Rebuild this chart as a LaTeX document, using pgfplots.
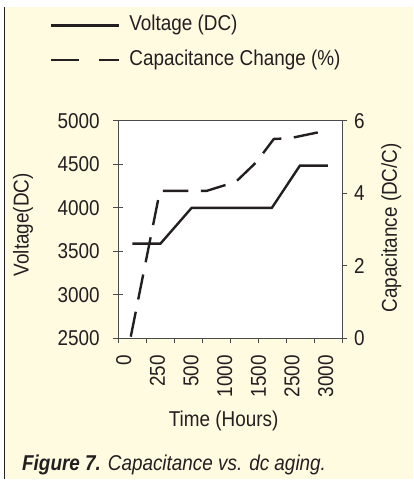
\documentclass[border=0pt]{standalone}
\usepackage{pgfplots}
\pgfplotsset{compat=1.18}
\usepackage{fontspec}
\setmainfont{Liberation Sans}[FakeStretch=0.88]
\definecolor{cream}{HTML}{FFFBE1}
\definecolor{axisgray}{HTML}{4A4A4A}
\definecolor{ink}{HTML}{231F20}
\newcommand\chartfont{\fontsize{21.5bp}{25bp}\selectfont}

\begin{document}
\begin{tikzpicture}
\fill[white] (0bp,0bp) rectangle (414bp,480bp);
\fill[cream] (4.5bp,0bp) rectangle (414bp,473bp);
\draw[ink, line width=1.4bp] (4.3bp,0bp) -- (4.3bp,473bp);
\node[anchor=base west, inner sep=0pt, font=\chartfont, text=ink] at (22bp,9bp)
  {\textbf{\textit{Figure 7.}} \textit{Capacitance vs. dc aging.}};

% frame + x axis
\begin{axis}[
  at={(118.3bp,141bp)}, anchor=south west,
  scale only axis, width=224.7bp, height=218bp,
  xmin=0, xmax=8, ymin=0, ymax=1,
  axis background/.style={fill=white},
  axis line style={axisgray, line width=1bp},
  every tick/.style={axisgray, line width=1bp},
  tick align=outside, major tick length=4bp,
  ytick=\empty,
  xtick={0,...,8}, xticklabels={}, xtick pos=bottom,
  extra x ticks={0.2,1.4,2.6,3.8,5.0,6.2,7.4},
  extra x tick labels={0,250,500,1000,1500,2500,3000},
  extra x tick style={major tick length=0pt, xticklabel shift=13bp},
  x tick label style={rotate=90, anchor=east, font=\chartfont, text=ink},
  xlabel={Time (Hours)},
  xlabel style={at={(axis description cs:0.470,-0.380)}, anchor=center, font=\chartfont, text=ink},
]
\end{axis}

% left y axis: voltage
\begin{axis}[
  at={(118.3bp,141bp)}, anchor=south west,
  scale only axis, width=224.7bp, height=218bp,
  xmin=0, xmax=8, ymin=2500, ymax=5000,
  axis x line=none, axis y line*=left,
  axis line style={axisgray, line width=1bp},
  every tick/.style={axisgray, line width=1bp},
  tick align=center, major tick length=10bp,
  ytick={2500,3000,...,5000},
  yticklabel shift=10bp,
  /pgf/number format/1000 sep={},
  /pgf/number format/assume math mode=true,
  y tick label style={font=\chartfont, text=ink},
  ylabel={Voltage(DC)},
  ylabel style={at={(axis description cs:-0.424,0.523)}, anchor=center, font=\chartfont, text=ink},
  legend image code/.code={\draw[#1] (0bp,0bp) -- (68bp,0bp);},
  legend cell align=left,
  legend style={at={(axis description cs:-0.304,1.488)}, anchor=north west,
    draw=none, fill=none, inner sep=0pt, font=\chartfont, text=ink,
    nodes={inner sep=0pt, text height=16.1bp, text depth=5.4bp},
    column sep=9bp, row sep=12.8bp},
]
\addplot[ink, line width=2.4bp] coordinates {
  (0.51,3590) (1.51,3590) (2.62,4000) (5.48,4000) (6.48,4485) (7.48,4485)};
\addlegendentry{Voltage (DC)}
\addlegendimage{ink, line width=2.4bp, dash pattern=on 28bp off 20bp}
\addlegendentry{Capacitance Change (\%)}
\end{axis}

% right y axis: capacitance
\begin{axis}[
  at={(118.3bp,141bp)}, anchor=south west,
  scale only axis, width=224.7bp, height=218bp,
  xmin=0, xmax=8, ymin=0, ymax=6,
  axis x line=none, axis y line*=right,
  axis line style={axisgray, line width=1bp},
  every tick/.style={axisgray, line width=1bp},
  tick align=outside, major tick length=5bp,
  ytick={0,2,4,6},
  yticklabel shift=3bp,
  /pgf/number format/assume math mode=true,
  y tick label style={font=\chartfont, text=ink},
  ylabel={Capacitance (DC/C)},
  ylabel style={at={(axis description cs:1.218,0.509)}, anchor=center, rotate=0, font=\chartfont, text=ink},
]
\addplot[ink, line width=2.4bp, dash pattern=on 25.5bp off 12.5bp] coordinates {
  (0.45,0.05) (1.49,4.07) (3.16,4.07) (4.20,4.32) (4.94,4.87) (5.55,5.50) (6.12,5.52) (7.12,5.68)};
\end{axis}
\end{tikzpicture}
\end{document}
